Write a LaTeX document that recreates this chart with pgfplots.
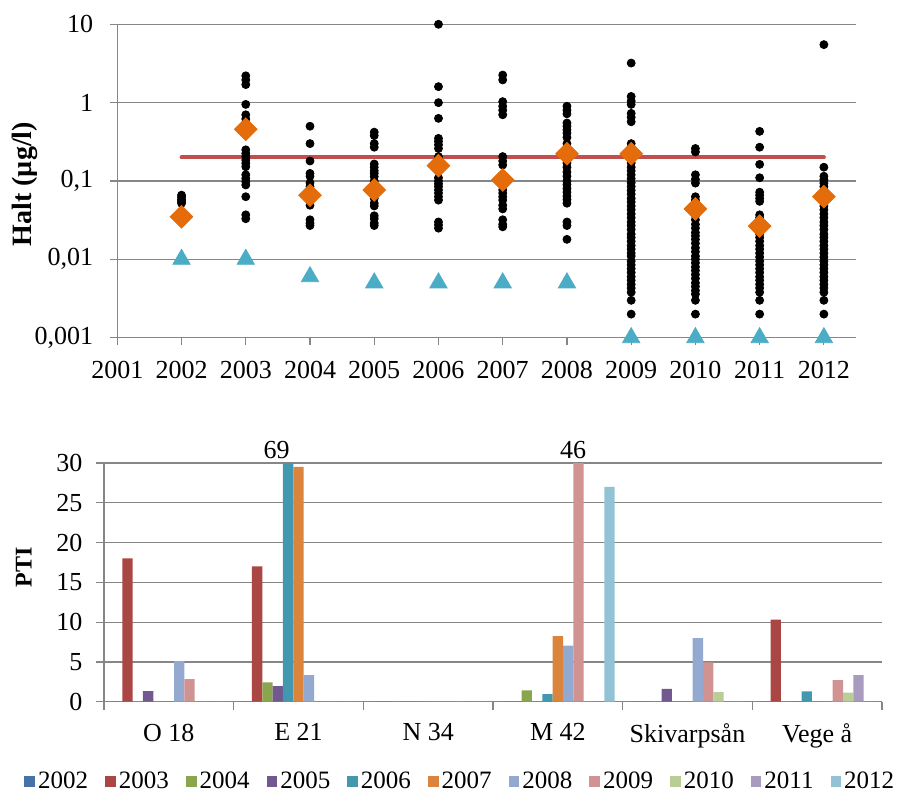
\documentclass[border=0pt]{standalone}
\usepackage{fontspec}
\setmainfont{Liberation Serif}
\usepackage{pgfplots}
\pgfplotsset{compat=1.18}
\usepackage{pgfplotstable}

\definecolor{gridgray}{HTML}{868686}
\definecolor{limitred}{HTML}{C0504D}
\definecolor{meanorange}{HTML}{E46C0A}
\definecolor{tri}{HTML}{4BACC6}
\definecolor{c2002}{HTML}{4572A7}
\definecolor{c2003}{HTML}{AA4643}
\definecolor{c2004}{HTML}{89A54E}
\definecolor{c2005}{HTML}{71588F}
\definecolor{c2006}{HTML}{4198AF}
\definecolor{c2007}{HTML}{DB843D}
\definecolor{c2008}{HTML}{93A9CF}
\definecolor{c2009}{HTML}{D19392}
\definecolor{c2010}{HTML}{B9CD96}
\definecolor{c2011}{HTML}{A99BBD}
\definecolor{c2012}{HTML}{92C3D4}

\newcommand{\tf}{\fontsize{13}{15}\selectfont}
\newcommand{\lf}{\fontsize{12.5}{14}\selectfont}

% PTI per site (rows) and year (columns); 69 and 46 run past the axis top
\pgfplotstableread{
cat y2002 y2003 y2004 y2005 y2006 y2007 y2008 y2009 y2010 y2011 y2012
0   0     18    0     1.34  0     0     5.1   2.85  0     0     0
1   0     17    2.43  1.97  69    29.5  3.35  0     0     0     0
2   0     0     0     0     0     0     0     0     0     0     0
3   0     0     1.42  0     0.96  8.25  7.04  46    0     0     27
4   0     0     0     1.6   0     0     8     4.95  1.2   0     0
5   0     10.3  0     0     1.3   0     0     2.72  1.13  3.35  0
}\pti

\pgfplotsset{
  leg/.style={legend image code/.code={\draw[##1,draw=none] (0pt,-2.7pt) rectangle (5.35pt,2.7pt);}},
}

\begin{document}
\begin{tikzpicture}
\useasboundingbox (0,0) rectangle (450.5pt,397pt);

\begin{axis}[
  at={(58.65pt,228.15pt)}, anchor=south west,
  scale only axis, width=369.35pt, height=156.7pt,
  xmin=2001, xmax=2012.5,
  ymode=log, ymin=0.001, ymax=10,
  axis x line*=bottom, axis y line*=left,
  axis line style={draw=gridgray, line width=0.6pt, -},
  xtick={2001,2002,2003,2004,2005,2006,2007,2008,2009,2010,2011,2012},
  xticklabels={2001,2002,2003,2004,2005,2006,2007,2008,2009,2010,2011,2012},
  ytick={0.001,0.01,0.1,1,10},
  yticklabels={{0,001},{0,01},{0,1},1,10},
  yminorticks=false,
  ymajorgrids, grid style={gridgray, line width=0.6pt},
  tick align=outside, major tick length=3.5pt,
  tick style={gridgray, line width=0.6pt},
  tick label style={font=\tf},
  xticklabel style={yshift=-4.5pt},
  yticklabel style={xshift=-5pt},
  ylabel={Halt (µg/l)},
  ylabel style={font=\bfseries\fontsize{14}{16}\selectfont, at={(axis description cs:-0.125,0.49)}, anchor=center},
  clip=false,
]
\addplot[limitred, line width=2pt, line cap=round] coordinates {(2002,0.2) (2012,0.2)};

\addplot[only marks, mark=*, mark size=2pt, black] coordinates {
(2002,0.066) (2002,0.062) (2002,0.058) (2002,0.055) (2002,0.052) (2002,0.030)
(2003,2.2) (2003,1.95) (2003,1.7) (2003,0.95) (2003,0.7) (2003,0.62) (2003,0.55)
(2003,0.25) (2003,0.225) (2003,0.205) (2003,0.185) (2003,0.168) (2003,0.152)
(2003,0.12) (2003,0.108) (2003,0.098) (2003,0.089) (2003,0.063) (2003,0.037) (2003,0.033)
(2004,0.5) (2004,0.3) (2004,0.18) (2004,0.125) (2004,0.115) (2004,0.095) (2004,0.085)
(2004,0.057) (2004,0.049) (2004,0.032) (2004,0.029) (2004,0.027)
(2005,0.42) (2005,0.38) (2005,0.3) (2005,0.27) (2005,0.165) (2005,0.15) (2005,0.135)
(2005,0.125) (2005,0.114) (2005,0.1) (2005,0.09) (2005,0.06) (2005,0.052) (2005,0.048)
(2005,0.036) (2005,0.033) (2005,0.029) (2005,0.027)
(2006,10) (2006,1.6) (2006,1.0) (2006,0.63) (2006,0.35) (2006,0.32) (2006,0.29) (2006,0.26)
(2006,0.205) (2006,0.18) (2006,0.155) (2006,0.11) (2006,0.1) (2006,0.092) (2006,0.085)
(2006,0.077) (2006,0.07) (2006,0.063) (2006,0.057) (2006,0.03) (2006,0.0275) (2006,0.025)
(2007,2.25) (2007,1.95) (2007,1.03) (2007,0.9) (2007,0.8) (2007,0.7) (2007,0.205) (2007,0.18)
(2007,0.16) (2007,0.077) (2007,0.07) (2007,0.063) (2007,0.057) (2007,0.049) (2007,0.044)
(2007,0.032) (2007,0.028) (2007,0.026)
(2008,0.9) (2008,0.8) (2008,0.72) (2008,0.55) (2008,0.5) (2008,0.45) (2008,0.41) (2008,0.36)
(2008,0.3) (2008,0.26) (2008,0.19) (2008,0.17) (2008,0.15) (2008,0.13) (2008,0.115) (2008,0.1)
(2008,0.09) (2008,0.08) (2008,0.072) (2008,0.064) (2008,0.058) (2008,0.052) (2008,0.03)
(2008,0.027) (2008,0.018)
(2009,3.2) (2009,1.2) (2009,1.05) (2009,0.95) (2009,0.73) (2009,0.65) (2009,0.57) (2009,0.3)
(2009,0.27) (2009,0.24) (2009,0.21) (2009,0.19) (2009,0.17) (2009,0.15) (2009,0.135) (2009,0.12)
(2009,0.107) (2009,0.095) (2009,0.085) (2009,0.076) (2009,0.068) (2009,0.06) (2009,0.054)
(2009,0.048) (2009,0.043) (2009,0.038) (2009,0.034) (2009,0.03) (2009,0.027) (2009,0.024)
(2009,0.021) (2009,0.019) (2009,0.017) (2009,0.015) (2009,0.0135) (2009,0.012) (2009,0.011)
(2009,0.0095) (2009,0.0085) (2009,0.0076) (2009,0.0068) (2009,0.006) (2009,0.0054)
(2009,0.0048) (2009,0.0043) (2009,0.0038) (2009,0.003) (2009,0.002)
(2010,0.26) (2010,0.235) (2010,0.12) (2010,0.105) (2010,0.094) (2010,0.063) (2010,0.057)
(2010,0.05) (2010,0.045) (2010,0.04) (2010,0.036) (2010,0.032) (2010,0.028) (2010,0.025)
(2010,0.022) (2010,0.02) (2010,0.018) (2010,0.016) (2010,0.014) (2010,0.0125) (2010,0.011)
(2010,0.01) (2010,0.009) (2010,0.008) (2010,0.0072) (2010,0.0064) (2010,0.0057) (2010,0.005)
(2010,0.0045) (2010,0.004) (2010,0.0036) (2010,0.003) (2010,0.002)
(2011,0.43) (2011,0.27) (2011,0.163) (2011,0.11) (2011,0.072) (2011,0.066) (2011,0.06)
(2011,0.055) (2011,0.037) (2011,0.034) (2011,0.03) (2011,0.027) (2011,0.024) (2011,0.021)
(2011,0.019) (2011,0.017) (2011,0.015) (2011,0.0135) (2011,0.012) (2011,0.0107) (2011,0.0095)
(2011,0.0085) (2011,0.0076) (2011,0.0068) (2011,0.006) (2011,0.0054) (2011,0.0048)
(2011,0.0043) (2011,0.0038) (2011,0.003) (2011,0.002)
(2012,5.5) (2012,0.15) (2012,0.115) (2012,0.104) (2012,0.094) (2012,0.085) (2012,0.076)
(2012,0.068) (2012,0.06) (2012,0.054) (2012,0.048) (2012,0.043) (2012,0.038) (2012,0.034)
(2012,0.03) (2012,0.027) (2012,0.024) (2012,0.021) (2012,0.019) (2012,0.017) (2012,0.015)
(2012,0.0135) (2012,0.012) (2012,0.0107) (2012,0.0095) (2012,0.0085) (2012,0.0076)
(2012,0.0068) (2012,0.006) (2012,0.0054) (2012,0.0048) (2012,0.0043) (2012,0.0038)
(2012,0.003) (2012,0.002)
};

% yearly mean
\addplot[only marks, color=meanorange, mark=square*, mark size=4pt, mark options={rotate=45, fill=meanorange, draw=none}] coordinates {
(2002,0.035) (2003,0.457) (2004,0.066) (2005,0.077) (2006,0.157) (2007,0.103)
(2008,0.223) (2009,0.223) (2010,0.044) (2011,0.0266) (2012,0.063)
};

% detection limit
\addplot[only marks, color=tri, mark=triangle*, mark size=5pt, mark options={fill=tri, draw=none}] coordinates {
(2002,0.01) (2003,0.01) (2004,0.006) (2005,0.005) (2006,0.005) (2007,0.005)
(2008,0.005) (2009,0.001) (2010,0.001) (2011,0.001) (2012,0.001)
};
\end{axis}

\begin{axis}[
  at={(52pt,46.15pt)}, anchor=south west,
  scale only axis, width=389pt, height=119.35pt,
  ybar=0pt, bar width=5.17pt,
  xmin=-0.5, xmax=5.5, ymin=0, ymax=30,
  clip mode=individual,
  axis x line*=bottom, axis y line*=left,
  axis line style={draw=gridgray, line width=0.6pt, -},
  xtick={0,1,2,3,4,5},
  xticklabels={O 18,E 21,N 34,M 42,Skivarpsån,Vege å},
  minor xtick={-0.5,0.5,1.5,2.5,3.5,4.5,5.5},
  major x tick style={draw=none},
  ytick={0,5,10,15,20,25,30},
  yticklabels={0,5,10,15,20,25,30},
  ymajorgrids, grid style={gridgray, line width=0.6pt},
  tick align=outside, major tick length=4pt, minor tick length=4pt,
  tick style={gridgray, line width=0.6pt},
  tick label style={font=\tf},
  xticklabel style={yshift=-3.5pt},
  yticklabel style={xshift=-3.3pt},
  ylabel={PTI},
  ylabel style={font=\bfseries\fontsize{12}{14}\selectfont, at={(axis description cs:-0.103,0.564)}, anchor=center},
  legend columns=11,
  legend style={at={(0.4587,-0.334)}, anchor=center, draw=none, fill=none,
    font=\lf, nodes={inner sep=1.5pt},
    /tikz/every even column/.append style={column sep=7pt}},
]
\addplot[fill=c2002, draw=none, leg] table[x=cat, y=y2002] {\pti};
\addplot[fill=c2003, draw=none, leg] table[x=cat, y=y2003] {\pti};
\addplot[fill=c2004, draw=none, leg] table[x=cat, y=y2004] {\pti};
\addplot[fill=c2005, draw=none, leg] table[x=cat, y=y2005] {\pti};
\addplot[fill=c2006, draw=none, leg] table[x=cat, y=y2006] {\pti};
\addplot[fill=c2007, draw=none, leg] table[x=cat, y=y2007] {\pti};
\addplot[fill=c2008, draw=none, leg] table[x=cat, y=y2008] {\pti};
\addplot[fill=c2009, draw=none, leg] table[x=cat, y=y2009] {\pti};
\addplot[fill=c2010, draw=none, leg] table[x=cat, y=y2010] {\pti};
\addplot[fill=c2011, draw=none, leg] table[x=cat, y=y2011] {\pti};
\addplot[fill=c2012, draw=none, leg] table[x=cat, y=y2012] {\pti};
\legend{2002,2003,2004,2005,2006,2007,2008,2009,2010,2011,2012}
\node[anchor=south, inner sep=0pt, yshift=2pt, font=\tf] at (axis cs:0.832,30) {69};
\node[anchor=south, inner sep=0pt, yshift=2pt, font=\tf] at (axis cs:3.118,30) {46};
\end{axis}
\end{tikzpicture}
\end{document}
